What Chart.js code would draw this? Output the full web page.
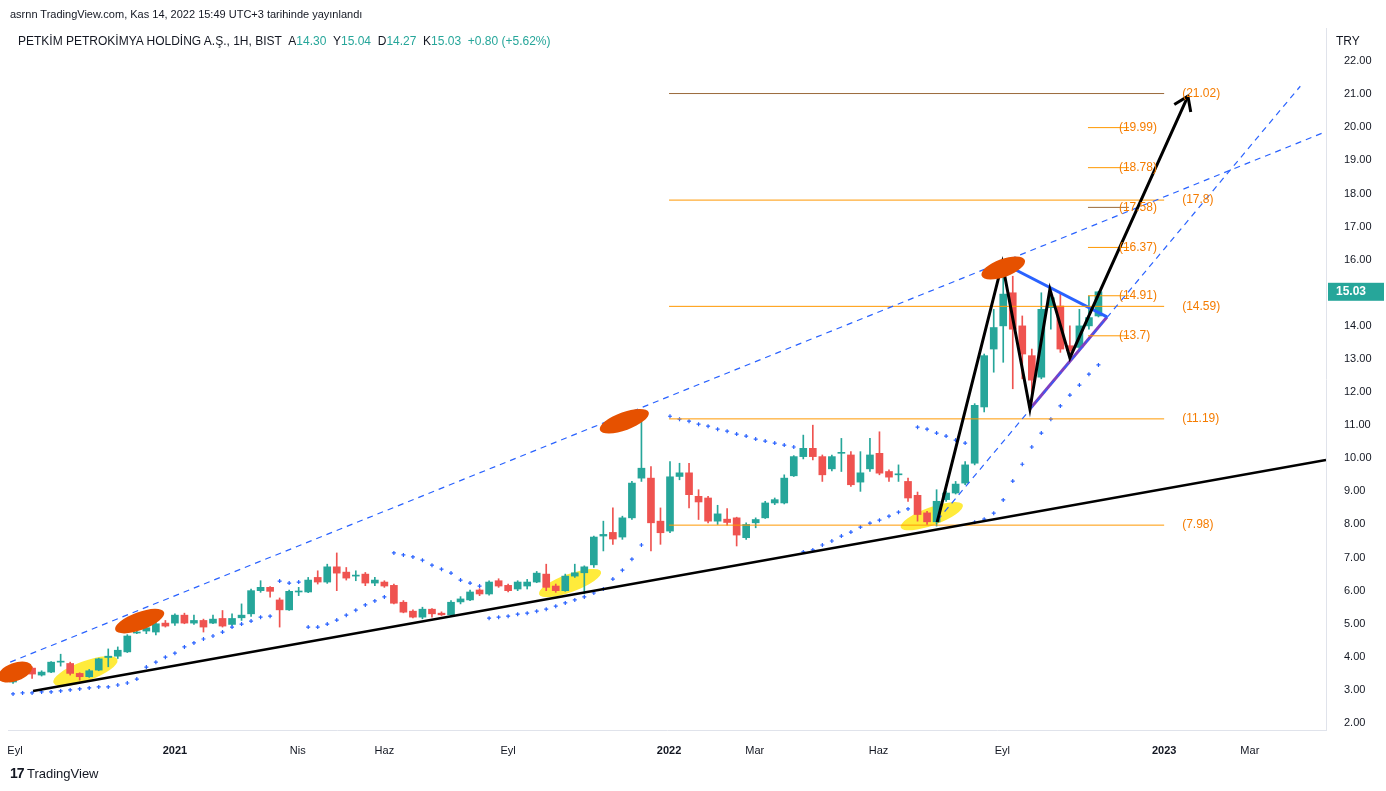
<!DOCTYPE html>
<html><head><meta charset="utf-8">
<script src="https://cdn.jsdelivr.net/npm/chart.js@4/dist/chart.umd.min.js"></script>
<style>
body{margin:0;background:#fff;font-family:"Liberation Sans",Arial,sans-serif;color:#131722;}
#wrap{position:absolute;left:0;top:0;width:1386px;height:791px;}
.t{position:absolute;white-space:nowrap;}
.g{color:#26a69a}
</style></head><body>
<div id="wrap"><canvas id="c" width="1386" height="791"></canvas></div>
<div class="t" style="left:10px;top:8px;font-size:11px;">asrnn TradingView.com, Kas 14, 2022 15:49 UTC+3 tarihinde yayınlandı</div>
<div class="t" style="left:18px;top:34px;font-size:12px;">PETKİM PETROKİMYA HOLDİNG A.Ş., 1H, BIST &nbsp;A<span class="g">14.30</span> &nbsp;Y<span class="g">15.04</span> &nbsp;D<span class="g">14.27</span> &nbsp;K<span class="g">15.03</span> &nbsp;<span class="g">+0.80 (+5.62%)</span></div>
<div class="t" style="left:1336px;top:34px;font-size:12px;">TRY</div>
<div class="t" style="left:10px;top:765px;font-size:13px;"><b style="font-size:14px;letter-spacing:-1px">17</b> TradingView</div>
<script>
const opens=[3.24,3.54,3.66,3.45,3.54,3.84,3.8,3.5,3.4,3.6,3.98,4.02,4.15,4.72,4.78,4.75,5.02,5.02,5.26,5.02,5.1,5.02,5.16,4.98,5.18,5.3,6.0,6.1,5.72,5.42,5.96,5.96,6.4,6.26,6.72,6.56,6.44,6.5,6.23,6.26,6.16,5.65,5.38,5.2,5.44,5.32,5.27,5.66,5.72,6.02,5.9,6.3,6.16,6.05,6.14,6.26,6.5,6.14,6.0,6.44,6.54,6.78,7.65,7.76,7.62,8.2,9.4,9.4,8.1,7.8,9.45,9.56,8.85,8.8,8.1,8.16,8.2,7.6,8.05,8.2,8.65,8.65,9.47,10.05,10.3,10.05,9.68,10.15,10.1,9.28,9.68,10.15,9.6,9.5,9.3,8.88,8.35,8.08,8.75,8.95,9.25,9.85,11.55,13.3,14.0,15.0,14.0,13.1,12.45,14.55,14.6,13.4,13.35,14.0,14.3];
const highs=[3.65,3.72,3.7,3.58,3.86,4.08,3.84,3.52,3.62,3.96,4.24,4.3,4.67,5.2,4.98,5.22,5.1,5.3,5.32,5.26,5.14,5.26,5.4,5.3,5.6,6.05,6.3,6.12,5.78,6.02,6.1,6.4,6.6,6.8,7.14,6.7,6.6,6.55,6.4,6.3,6.2,5.7,5.42,5.5,5.46,5.36,5.7,5.82,6.02,6.06,6.3,6.36,6.2,6.3,6.34,6.58,6.8,6.2,6.5,6.8,6.75,7.65,8.1,8.5,8.25,9.3,11.37,9.75,8.5,9.9,9.85,9.85,9.05,8.85,8.58,8.48,8.22,8.05,8.2,8.7,8.8,9.5,10.08,10.7,11.0,10.1,10.1,10.6,10.2,10.2,10.6,10.8,9.65,9.8,9.4,8.98,8.4,9.05,9.0,9.3,9.9,11.65,13.15,14.5,15.93,15.5,14.3,13.3,15.0,15.0,15.0,14.0,14.5,14.9,15.04];
const lows=[3.2,3.5,3.35,3.42,3.52,3.72,3.45,3.3,3.38,3.58,3.7,3.95,4.13,4.7,4.7,4.66,4.9,4.95,5.0,4.98,4.75,5.0,4.9,4.95,5.1,5.22,5.95,5.8,4.9,5.4,5.85,5.94,6.2,6.22,6.0,6.32,6.3,6.15,6.15,6.1,5.6,5.33,5.18,5.15,5.2,5.25,5.25,5.6,5.7,5.85,5.86,6.1,5.96,6.0,6.05,6.24,6.0,5.95,5.98,6.4,5.9,6.7,7.2,7.4,7.55,8.15,9.3,7.2,7.4,7.75,9.35,8.5,8.15,8.05,8.0,7.98,7.35,7.55,7.9,8.18,8.6,8.62,9.45,9.98,9.95,9.3,9.62,9.6,9.15,9.0,9.6,9.5,9.3,9.3,8.7,8.1,8.0,7.95,8.7,8.92,9.2,9.8,11.4,12.6,12.9,12.1,12.4,11.7,12.4,13.9,13.2,13.1,13.3,13.9,14.27];
const closes=[3.54,3.66,3.48,3.54,3.84,3.86,3.5,3.4,3.58,3.94,4.02,4.2,4.63,4.75,4.88,5.0,4.93,5.26,5.02,5.1,4.9,5.14,4.93,5.16,5.26,6.0,6.1,5.98,5.42,5.98,5.98,6.32,6.26,6.72,6.53,6.38,6.45,6.23,6.32,6.14,5.62,5.35,5.2,5.44,5.3,5.27,5.65,5.75,5.96,5.9,6.26,6.14,6.0,6.26,6.26,6.53,6.1,6.0,6.44,6.54,6.72,7.62,7.7,7.56,8.2,9.25,9.7,8.05,7.75,9.44,9.56,8.9,8.68,8.1,8.32,8.06,7.68,8.0,8.15,8.65,8.75,9.4,10.05,10.3,10.05,9.5,10.05,10.17,9.2,9.56,10.1,9.55,9.43,9.5,8.8,8.3,8.08,8.7,8.95,9.22,9.8,11.6,13.1,13.95,14.96,13.9,13.15,12.36,14.5,14.85,13.3,13.25,14.0,14.25,15.03];
const sar=[2.88,2.91,2.91,2.94,2.94,2.97,3.00,3.03,3.06,3.09,3.09,3.15,3.21,3.33,3.69,3.84,3.99,4.11,4.30,4.42,4.54,4.63,4.75,4.90,4.99,5.08,5.20,5.23,6.29,6.23,6.26,4.90,4.90,4.99,5.11,5.26,5.41,5.57,5.69,5.81,7.14,7.08,7.02,6.92,6.77,6.65,6.53,6.32,6.23,6.14,5.17,5.20,5.23,5.29,5.32,5.38,5.44,5.53,5.63,5.72,5.81,5.93,6.05,6.35,6.62,6.95,7.38,null,null,11.27,11.18,11.12,11.03,10.97,10.88,10.82,10.73,10.67,10.58,10.52,10.46,10.40,10.34,7.17,7.23,7.38,7.50,7.65,7.77,7.92,8.04,8.13,8.25,8.37,8.47,10.94,10.88,10.76,10.67,10.55,10.46,8.07,8.16,8.34,8.74,9.31,9.82,10.34,10.76,11.18,11.58,11.91,12.21,12.54,12.82];
const tickPos=[0.2,17,29.9,39,52,68.9,77.9,90.9,103.9,120.9,129.9];
const tickLabels=["Eyl","2021","Nis","Haz","Eyl","2022","Mar","Haz","Eyl","2023","Mar"];
const supportLine=[[2.1,2.97],[137.9,9.95]];
const upperDash=[[-0.3,3.84],[137.9,19.87]];
const steepDash=[[97.1,8.13],[135.2,21.24]];
const zigzag=[[97.06,8.07],[103.9,15.9],[106.8,11.49],[108.9,15.11],[111.0,13.03],[123.4,20.94]];
const blueLine=[[103.9,15.9],[114.9,14.27]];
const purpleLine=[[106.8,11.49],[114.9,14.27]];
const fibLong=[21.02,17.8,14.59,11.19,7.98];
const fibShort=[19.99,18.78,17.58,16.37,14.91,13.7];
const fibLongRange=[68.9,120.9], fibShortRange=[112.9,117.2];
const ellOrange=[[0.2,3.54,18,9],[13.3,5.08,26,9],[64.2,11.12,26,9],[104.0,15.75,23,9]];
const ellYellow=[[7.6,3.57,34,10],[58.5,6.23,33,9],[96.5,8.25,33,9]];

const up='#26a69a',dn='#ef5350',fibC='#ff9800';
const idx=opens.map((_,i)=>i);
const col=idx.map(i=>closes[i]>=opens[i]?up:dn);
const pts=a=>a.map(p=>({x:p[0],y:p[1]}));
const lineDs=(data,color,w,dash)=>({type:'line',data,borderColor:color,borderWidth:w,borderDash:dash||[],pointRadius:0,fill:false,order:1,tension:0});
const datasets=[
 {type:'bar',data:idx.map(i=>({x:i,y:[lows[i],highs[i]]})),backgroundColor:col,barThickness:1,grouped:false,order:10},
 {type:'bar',data:idx.map(i=>({x:i,y:[opens[i],closes[i]]})),backgroundColor:col,barThickness:7,minBarLength:1,grouped:false,order:9},
 {type:'line',data:idx.map(i=>({x:i,y:sar[i]})),showLine:false,pointStyle:'cross',pointRadius:2,pointBorderColor:'#2962ff',pointBorderWidth:1.2,order:8},
 lineDs(pts(supportLine),'#000',2.5),
 lineDs(pts(upperDash),'#2962ff',1.2,[6,5]),
 lineDs(pts(steepDash),'#2962ff',1.2,[6,5]),
];
fibLong.forEach((v,j)=>datasets.push(lineDs([{x:fibLongRange[0],y:v},{x:fibLongRange[1],y:v}],j==0?'#9a6a3a':fibC,1)));
fibShort.forEach((v,j)=>datasets.push(lineDs([{x:fibShortRange[0],y:v},{x:fibShortRange[1],y:v}],j==2?'#9a6a3a':fibC,1)));
datasets.push(lineDs(pts(blueLine),'#2962ff',3));
datasets.push(lineDs(pts(purpleLine),'#7e3fc0',3));
datasets.push(Object.assign(lineDs(pts(zigzag),'#000',3),{order:0}));

const ell=(ch,list,color)=>{const c=ch.ctx,x=ch.scales.x,y=ch.scales.y;c.save();c.fillStyle=color;
 list.forEach(e=>{c.beginPath();c.ellipse(x.getPixelForValue(e[0]),y.getPixelForValue(e[1]),e[2],e[3],-0.35,0,Math.PI*2);c.fill();});c.restore();};
const plug={id:'ov',
 beforeDatasetsDraw(ch){ell(ch,ellYellow,'#ffeb3b');},
 afterDatasetsDraw(ch){ell(ch,ellOrange,'#e65100');
  const c=ch.ctx,x=ch.scales.x,y=ch.scales.y;
  const a=zigzag[zigzag.length-2],b=zigzag[zigzag.length-1];
  const x1=x.getPixelForValue(a[0]),y1=y.getPixelForValue(a[1]),x2=x.getPixelForValue(b[0]),y2=y.getPixelForValue(b[1]);
  const ang=Math.atan2(y2-y1,x2-x1);c.save();c.strokeStyle='#000';c.lineWidth=3;c.beginPath();
  c.moveTo(x2-16*Math.cos(ang-0.6),y2-16*Math.sin(ang-0.6));c.lineTo(x2,y2);c.lineTo(x2-16*Math.cos(ang+0.6),y2-16*Math.sin(ang+0.6));c.stroke();
  c.font='12px "Liberation Sans",Arial';c.fillStyle='#f57c00';c.textBaseline='middle';
  fibLong.forEach(v=>c.fillText('('+v+')',x.getPixelForValue(fibLongRange[1])+18,y.getPixelForValue(v)));
  fibShort.forEach(v=>c.fillText('('+v+')',x.getPixelForValue(fibShortRange[1])-10,y.getPixelForValue(v)));
  const last=closes[closes.length-1],py=y.getPixelForValue(last);
  c.fillStyle=up;c.fillRect(x.right+2,py-9,56,18);c.fillStyle='#fff';c.font='bold 12px "Liberation Sans",Arial';c.fillText(last.toFixed(2),x.right+10,py);
  c.restore();}
};
new Chart(document.getElementById('c'),{type:'bar',data:{datasets},plugins:[plug],
 options:{responsive:false,animation:false,layout:{padding:{top:28,bottom:31,left:8,right:0}},
  plugins:{legend:{display:false},tooltip:{enabled:false}},
  scales:{
   x:{type:'linear',min:-0.53,max:137.9,offset:false,grid:{display:false},border:{color:'#e0e3eb'},
    afterBuildTicks:s=>{s.ticks=tickPos.map(v=>({value:v}));},
    afterFit:s=>{s.height=30;},
    ticks:{autoSkip:false,maxRotation:0,color:'#131722',padding:6,
     font:c=>({size:11,weight:(c.tick&&/^\d/.test(tickLabels[tickPos.indexOf(c.tick.value)]))?'bold':'normal',family:'"Liberation Sans",Arial'}),
     callback:v=>tickLabels[tickPos.indexOf(v)]}},
   y:{type:'linear',position:'right',min:1.79,max:23.0,grid:{display:false},border:{color:'#e0e3eb'},
    afterBuildTicks:s=>{const t=[];for(let v=2;v<=22;v++)t.push({value:v});s.ticks=t;},
    afterFit:s=>{s.width=60;},
    ticks:{color:'#131722',padding:10,font:{size:11,family:'"Liberation Sans",Arial'},callback:v=>v.toFixed(2)}}
  }}});
</script></body></html>
